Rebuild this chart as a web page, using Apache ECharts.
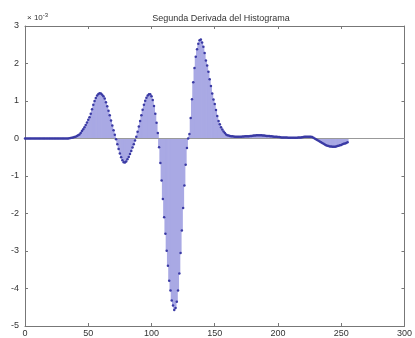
<!DOCTYPE html>
<html>
<head>
<meta charset="utf-8">
<script src="https://cdn.jsdelivr.net/npm/echarts@6/dist/echarts.min.js"></script>
<style>
  html, body { margin: 0; padding: 0; background: #fff; }
  #main { width: 415px; height: 338px; }
</style>
</head>
<body>
<div id="main"></div>
<script>
// segunda derivada del histograma, valores en unidades de 1e-3, índices 0..255
var zeros0to34 = [0,0,0,0,0,0,0,0,0,0,0,0,0,0,0,0,0,0,0,0,0,0,0,0,0,0,0,0,0,0,0,0,0,0,0]
var peak1 = [ // 35..88
    0.01,0.015,0.02,0.03,0.04,0.05,0.07,0.09,0.11,0.15,0.2,0.25,0.3,0.36,0.43,0.5,0.57,0.66,0.78,0.9,
    1.0,1.08,1.15,1.19,1.21,1.2,1.17,1.13,1.07,0.97,0.86,0.74,0.62,0.48,0.35,0.22,0.1,-0.02,-0.15,-0.28,
    -0.4,-0.5,-0.58,-0.63,-0.64,-0.61,-0.55,-0.49,-0.41,-0.33,-0.24,-0.15,-0.05,0.05
]
var peak2 = [ // 89..105
    0.18,0.32,0.47,0.62,0.77,0.9,1.01,1.09,1.15,1.18,1.18,1.13,1.03,0.87,0.66,0.42,0.15
]
var trough = [ // 106..129
    -0.23,-0.65,-1.12,-1.61,-2.1,-2.54,-2.99,-3.39,-3.79,-4.05,-4.32,-4.45,-4.57,-4.52,-4.35,-4.05,
    -3.6,-3.05,-2.45,-1.85,-1.25,-0.7,-0.25,0.0
]
var peak3 = [ // 130..163
    0.12,0.55,1.05,1.5,1.88,2.18,2.38,2.53,2.62,2.64,2.56,2.45,2.28,2.08,1.95,1.78,1.58,1.4,1.2,1.04,
    0.92,0.76,0.6,0.47,0.38,0.3,0.24,0.19,0.15,0.11,0.09,0.08,0.07,0.06
]
var tail = [ // 164..255
    0.06,0.055,0.05,0.05,0.05,0.05,0.05,0.05,0.055,0.055,0.06,0.06,0.06,0.06,0.065,0.07,0.075,0.08,0.08,0.085,
    0.09,0.09,0.09,0.085,0.08,0.08,0.075,0.07,0.07,0.065,0.06,0.06,0.055,0.05,0.05,0.045,0.04,0.04,0.035,0.03,
    0.03,0.03,0.025,0.025,0.02,0.02,0.02,0.02,0.02,0.02,0.02,0.02,0.025,0.03,0.03,0.035,0.04,0.045,0.05,0.05,
    0.05,0.05,0.045,0.04,0.02,0.0,-0.02,-0.04,-0.06,-0.08,-0.1,-0.12,-0.14,-0.16,-0.18,-0.19,-0.2,-0.21,-0.21,-0.22,
    -0.22,-0.22,-0.21,-0.2,-0.19,-0.18,-0.17,-0.15,-0.14,-0.13,-0.12,-0.1
]
var values = zeros0to34.concat(peak1, peak2, trough, peak3, tail)

var xTicks = [0, 50, 100, 150, 200, 250, 300]
var yTicks = [-5, -4, -3, -2, -1, 0, 1, 2, 3]

var points = values.map(function (v, i) { return [i, v] })

var myChart = echarts.init(document.getElementById('main'))
var axisGray = '#777'
var labelStyle = { color: '#333', fontSize: 9, fontFamily: 'Liberation Sans, Arial, sans-serif' }

myChart.setOption({
    animation: false,
    title: {
        text: 'Segunda Derivada del Histograma',
        left: 216,
        textAlign: 'center',
        top: 9,
        textStyle: { fontSize: 9, fontWeight: 'normal', color: '#333', fontFamily: 'Liberation Sans, Arial, sans-serif' }
    },
    graphic: [{
        type: 'text',
        left: 27,
        top: 12,
        style: {
            text: '× 10{sup|-3}',
            fill: '#333',
            fontSize: 8,
            fontFamily: 'Liberation Sans, Arial, sans-serif',
            rich: { sup: { fontSize: 6, verticalAlign: 'top', padding: [0, 0, 5, 0], fill: '#333' } }
        }
    }],
    grid: { left: 25, right: 8, top: 26, bottom: 12 },
    xAxis: [{
        type: 'value',
        min: xTicks[0],
        max: xTicks[xTicks.length - 1],
        interval: 50,
        position: 'bottom',
        axisLine: { onZero: false, lineStyle: { color: axisGray, width: 1 } },
        axisTick: { inside: true, length: 3, lineStyle: { color: axisGray } },
        axisLabel: Object.assign({ margin: 3 }, labelStyle),
        splitLine: { show: false }
    }, {
        type: 'value',
        min: xTicks[0],
        max: xTicks[xTicks.length - 1],
        interval: 50,
        position: 'top',
        axisLine: { onZero: false, lineStyle: { color: axisGray, width: 1 } },
        axisTick: { inside: true, length: 3, lineStyle: { color: axisGray } },
        axisLabel: { show: false },
        splitLine: { show: false }
    }],
    yAxis: [{
        type: 'value',
        min: yTicks[0],
        max: yTicks[yTicks.length - 1],
        interval: 1,
        position: 'left',
        axisLine: { show: true, onZero: false, lineStyle: { color: axisGray, width: 1 } },
        axisTick: { show: true, inside: true, length: 3, lineStyle: { color: axisGray } },
        axisLabel: Object.assign({ margin: 6 }, labelStyle),
        splitLine: { show: false }
    }, {
        type: 'value',
        min: yTicks[0],
        max: yTicks[yTicks.length - 1],
        interval: 1,
        position: 'right',
        axisLine: { show: true, onZero: false, lineStyle: { color: axisGray, width: 1 } },
        axisTick: { show: true, inside: true, length: 3, lineStyle: { color: axisGray } },
        axisLabel: { show: false },
        splitLine: { show: false }
    }],
    series: [
        {
            // stems
            name: 'stems',
            type: 'bar',
            data: points,
            barWidth: 2,
            itemStyle: { color: '#a9a9e4' },
            silent: true,
            z: 1
        },
        {
            // base line at zero
            name: 'base',
            type: 'line',
            data: [[0, 0], [300, 0]],
            symbol: 'none',
            lineStyle: { color: '#999', width: 1 },
            silent: true,
            z: 2
        },
        {
            // stem markers only, no connecting line (like matlab stem)
            name: 'segunda derivada',
            type: 'line',
            data: points,
            symbol: 'circle',
            symbolSize: 2.5,
            showAllSymbol: true,
            itemStyle: { color: '#3a3aa4' },
            lineStyle: { width: 0, opacity: 0 },
            z: 3
        }
    ]
})
</script>
</body>
</html>
